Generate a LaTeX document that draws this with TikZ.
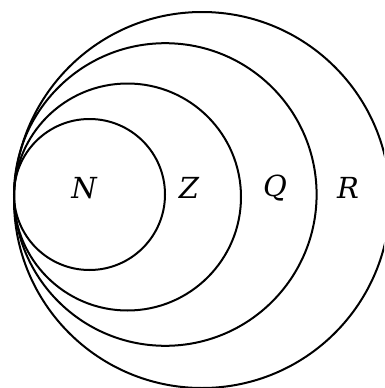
\documentclass[tikz,border=0pt]{standalone}
\usepackage{fontspec}
\newfontfamily\lblfont{DejaVu Serif}
\tikzset{
  ring/.style={draw=black, line width=2pt},
  lbl/.style={font=\lblfont\itshape\fontsize{29}{29}\selectfont, inner sep=0pt}
}
\begin{document}
\begin{tikzpicture}[x=1pt,y=-1pt]
\useasboundingbox (0,0) rectangle (384,388);
\clip (0,0) rectangle (384,388);
\draw[ring] (89.5,194.5) circle[radius=75.5];
\draw[ring] (127.5,197) circle[radius=113.5];
\draw[ring] (165.3,194.5) circle[radius=151.3];
\draw[ring] (202,200) circle[radius=188];
\node[lbl] (n) at (84,188) {N};
\node[lbl] (z) at (189,188) {Z};
\node[lbl] (q) at (275,188) {Q};
\node[lbl] (r) at (348,188) {R};
\end{tikzpicture}
\end{document}
